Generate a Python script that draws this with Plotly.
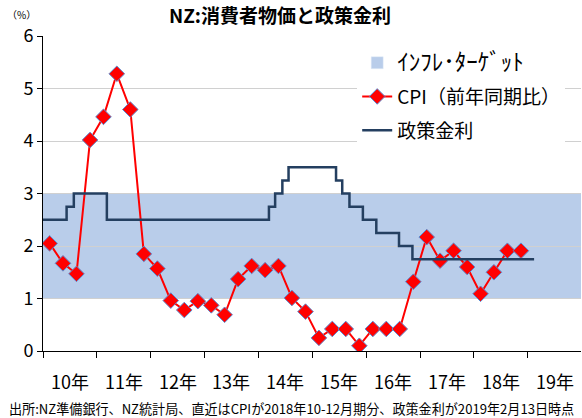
import pandas as pd
import plotly.graph_objects as go

# CPI (YoY, %) quarterly
cpi_quarters = [f"{y}Q{q}" for y in range(2010, 2019) for q in range(1, 5)]
cpi_values = [2.05, 1.67, 1.47, 4.02,
              4.46, 5.28, 4.60, 1.85,
              1.57, 0.96, 0.78, 0.95,
              0.87, 0.69, 1.37, 1.62,
              1.54, 1.62, 1.01, 0.75,
              0.25, 0.42, 0.42, 0.10,
              0.42, 0.42, 0.42, 1.32,
              2.17, 1.72, 1.91, 1.60,
              1.09, 1.50, 1.91, 1.91]

# Policy rate (OCR) change dates
policy_dates = ["2010-01-01", "2010-06-10", "2010-07-29", "2011-03-10",
                "2014-03-13", "2014-04-24", "2014-06-12", "2014-07-24",
                "2015-06-11", "2015-07-23", "2015-09-10", "2015-12-10",
                "2016-03-10", "2016-08-11", "2016-11-10", "2019-02-13"]
policy_rates = [2.50, 2.75, 3.00, 2.50,
                2.75, 3.00, 3.25, 3.50,
                3.25, 3.00, 2.75, 2.50,
                2.25, 2.00, 1.75, 1.75]

target_low, target_high = 1, 3
years = list(range(2010, 2020))
year_labels = [f"{str(y)[2:]}年" for y in years]

cpi_x = []
for q in cpi_quarters:
    p = pd.Period(q, freq="Q")
    cpi_x.append(p.start_time + (p.end_time - p.start_time) / 2)

JP = "Noto Sans CJK JP"
fig = go.Figure()

fig.add_trace(go.Bar(x=[None], y=[None],
                     name='<span style="font-size:23px">ｲﾝﾌﾚ･ﾀｰｹﾞｯﾄ</span>',
                     marker=dict(color="#B9CDEA"), legendgroup="a"))
fig.add_trace(go.Scatter(x=cpi_x, y=cpi_values, mode="lines+markers",
                         name="CPI（前年同期比）", legendgroup="b",
                         line=dict(color="#FF0000", width=2),
                         marker=dict(symbol="diamond", size=12, color="#FF0000",
                                     line=dict(color="#5B8BD0", width=1))))
fig.add_trace(go.Scatter(x=pd.to_datetime(policy_dates), y=policy_rates, mode="lines",
                         name="政策金利", legendgroup="c", line_shape="hv",
                         line=dict(color="#243F60", width=2.5)))

fig.add_shape(type="rect", xref="paper", x0=0, x1=1, yref="y",
              y0=target_low, y1=target_high, fillcolor="#B9CDEA",
              line=dict(width=0), layer="below")

for y, lab in zip(years, year_labels):
    fig.add_annotation(x=pd.Timestamp(f"{y}-07-02"), xref="x", y=-0.095, yref="paper",
                       text=lab, showarrow=False, font=dict(size=18, color="#000000", family=JP),
                       yanchor="middle")

fig.add_annotation(x=-0.07, xref="paper", y=1.067, yref="paper", text="（%）",
                   showarrow=False, font=dict(size=10, family=JP, color="#000"),
                   xanchor="left", yanchor="middle")
fig.add_annotation(x=-0.066, xref="paper", y=-0.181, yref="paper",
                   text="出所:NZ準備銀行、NZ統計局、直近はCPIが2018年10-12月期分、政策金利が2019年2月13日時点",
                   showarrow=False, font=dict(size=13.1, family=JP, color="#000"),
                   xanchor="left", yanchor="middle")

fig.update_layout(
    width=582, height=418,
    margin=dict(l=43, r=1, t=36, b=67),
    paper_bgcolor="white", plot_bgcolor="white",
    title=dict(text="<b>NZ:消費者物価と政策金利</b>", x=0.481, xanchor="center",
               y=0.962, yanchor="middle", font=dict(size=19, family=JP, color="#000")),
    font=dict(family=JP, color="#000"),
    showlegend=True,
    legend=dict(x=0.584, y=0.975, xanchor="left", yanchor="top",
                bgcolor="white", font=dict(size=19, family=JP, color="#000"),
                tracegroupgap=6, itemwidth=30, traceorder="grouped"),
    xaxis=dict(type="date", range=["2010-01-01", "2019-12-28"],
               showgrid=False, showticklabels=False,
               tickvals=[pd.Timestamp(f"{y}-01-01") for y in years],
               ticks="outside", ticklen=6, tickcolor="#000",
               showline=True, linecolor="#000", linewidth=1, zeroline=False),
    yaxis=dict(range=[0, 6], tickvals=[0, 1, 2, 3, 4, 5, 6], ticks="outside",
               ticklen=5, tickcolor="#000", showline=True, linecolor="#000",
               linewidth=1, showgrid=True, gridcolor="#D0D0D0", gridwidth=1,
               zeroline=False, tickfont=dict(size=18, family=JP, color="#000")),
)

fig.write_html("out.html", config={"displayModeBar": False},
               post_script="document.body.style.margin='0';")
